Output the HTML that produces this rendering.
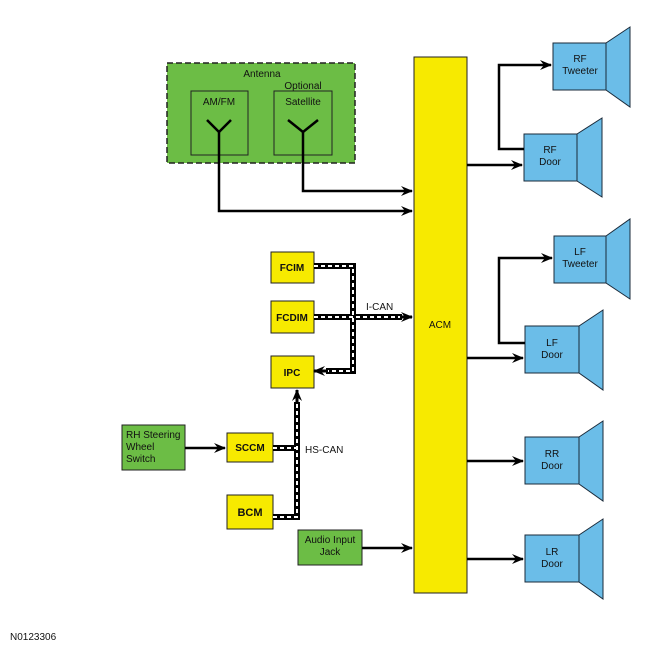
<!DOCTYPE html>
<html><head><style>body{margin:0;background:#fff}svg{display:block}text{font-family:"Liberation Sans",sans-serif;font-size:10px;fill:#111}</style></head>
<body>
<svg width="650" height="650" viewBox="0 0 650 650">
<defs>
<marker id="a" markerWidth="12" markerHeight="10" refX="11" refY="5" orient="auto" markerUnits="userSpaceOnUse"><path d="M0,0 L12,5 L0,10 L4,5z" fill="#000"/></marker>
</defs>
<rect x="167" y="63" width="188" height="100" fill="#6cbd45" stroke="#222" stroke-width="1.5" stroke-dasharray="6,3"/>
<text x="262" y="77" text-anchor="middle">Antenna</text>
<text x="303" y="89" text-anchor="middle">Optional</text>
<rect x="191" y="91" width="57" height="64" fill="#6cbd45" stroke="#222"/>
<rect x="274" y="91" width="58" height="64" fill="#6cbd45" stroke="#222"/>
<text x="219" y="105" text-anchor="middle">AM/FM</text>
<text x="303" y="105" text-anchor="middle">Satellite</text>
<path d="M207,120 L219,132 L231,120 M288,120 L303,132 L318,120" fill="none" stroke="#000" stroke-width="2.5"/>
<path d="M303,132 V191 H412" fill="none" stroke="#000" stroke-width="2.5" marker-end="url(#a)"/>
<path d="M219,132 V211 H412" fill="none" stroke="#000" stroke-width="2.5" marker-end="url(#a)"/>
<rect x="414" y="57" width="53" height="536" fill="#f7ea00" stroke="#222"/>
<text x="440" y="328" text-anchor="middle">ACM</text>
<g fill="#f7ea00" stroke="#222">
<rect x="271" y="252" width="43" height="31"/>
<rect x="271" y="301" width="43" height="32"/>
<rect x="271" y="356" width="43" height="32"/>
<rect x="227" y="433" width="46" height="29"/>
<rect x="227" y="495" width="46" height="34"/>
</g>
<g font-weight="bold" text-anchor="middle">
<text x="292" y="271">FCIM</text>
<text x="292" y="321">FCDIM</text>
<text x="292" y="376">IPC</text>
<text x="250" y="451">SCCM</text>
<text x="250" y="516" style="font-size:11px">BCM</text>
</g>
<rect x="122" y="425" width="63" height="45" fill="#6cbd45" stroke="#222"/>
<text x="126" y="438">RH Steering</text><text x="126" y="450">Wheel</text><text x="126" y="462">Switch</text>
<path d="M185,448 H225" stroke="#000" stroke-width="2.5" marker-end="url(#a)"/>
<rect x="298" y="530" width="64" height="35" fill="#6cbd45" stroke="#222"/>
<text x="330" y="543" text-anchor="middle">Audio  Input</text><text x="330" y="555" text-anchor="middle">Jack</text>
<path d="M362,548 H412" stroke="#000" stroke-width="2.5" marker-end="url(#a)"/>
<g fill="none">
<path d="M314,266 H353 V371 H326" stroke="#000" stroke-width="6"/>
<path d="M314,317 H402" stroke="#000" stroke-width="6"/>
<path d="M314,266 H353 V371 H326 M314,317 H402" stroke="#fff" stroke-width="2" stroke-dasharray="4,3"/>
<path d="M328,371 L314,371" stroke="#000" stroke-width="3" marker-end="url(#a)"/>
<path d="M400,317 H412" stroke="#000" stroke-width="3" marker-end="url(#a)"/>
<path d="M273,517 H297 V402 M273,448 H297" stroke="#000" stroke-width="6"/>
<path d="M273,517 H297 V402 M273,448 H297" stroke="#fff" stroke-width="2" stroke-dasharray="4,3"/>
<path d="M297,404 V390" stroke="#000" stroke-width="3" marker-end="url(#a)"/>
</g>
<text x="366" y="310">I-CAN</text>
<text x="305" y="453">HS-CAN</text>
<g fill="#6bbde8" stroke="#1a2a3a">
<rect x="553" y="43" width="53" height="47"/><path d="M606,43 L630,27 V107 L606,90z"/>
<rect x="524" y="134" width="53" height="47"/><path d="M577,134 L602,118 V197 L577,181z"/>
<rect x="554" y="236" width="52" height="47"/><path d="M606,236 L630,219 V299 L606,283z"/>
<rect x="525" y="326" width="54" height="47"/><path d="M579,326 L603,310 V390 L579,373z"/>
<rect x="525" y="437" width="54" height="47"/><path d="M579,437 L603,421 V501 L579,484z"/>
<rect x="525" y="535" width="54" height="47"/><path d="M579,535 L603,519 V599 L579,582z"/>
</g>
<g text-anchor="middle">
<text x="580" y="62">RF</text><text x="580" y="74">Tweeter</text>
<text x="550" y="153">RF</text><text x="550" y="165">Door</text>
<text x="580" y="255">LF</text><text x="580" y="267">Tweeter</text>
<text x="552" y="346">LF</text><text x="552" y="358">Door</text>
<text x="552" y="457">RR</text><text x="552" y="469">Door</text>
<text x="552" y="555">LR</text><text x="552" y="567">Door</text>
</g>
<g fill="none" stroke="#000" stroke-width="2.5">
<path d="M467,165 H522" marker-end="url(#a)"/>
<path d="M524,149 H499 V65 H551" marker-end="url(#a)"/>
<path d="M467,358 H523" marker-end="url(#a)"/>
<path d="M525,343 H499 V258 H552" marker-end="url(#a)"/>
<path d="M467,461 H523" marker-end="url(#a)"/>
<path d="M467,559 H523" marker-end="url(#a)"/>
</g>
<text x="10" y="640">N0123306</text>
</svg>
</body></html>
